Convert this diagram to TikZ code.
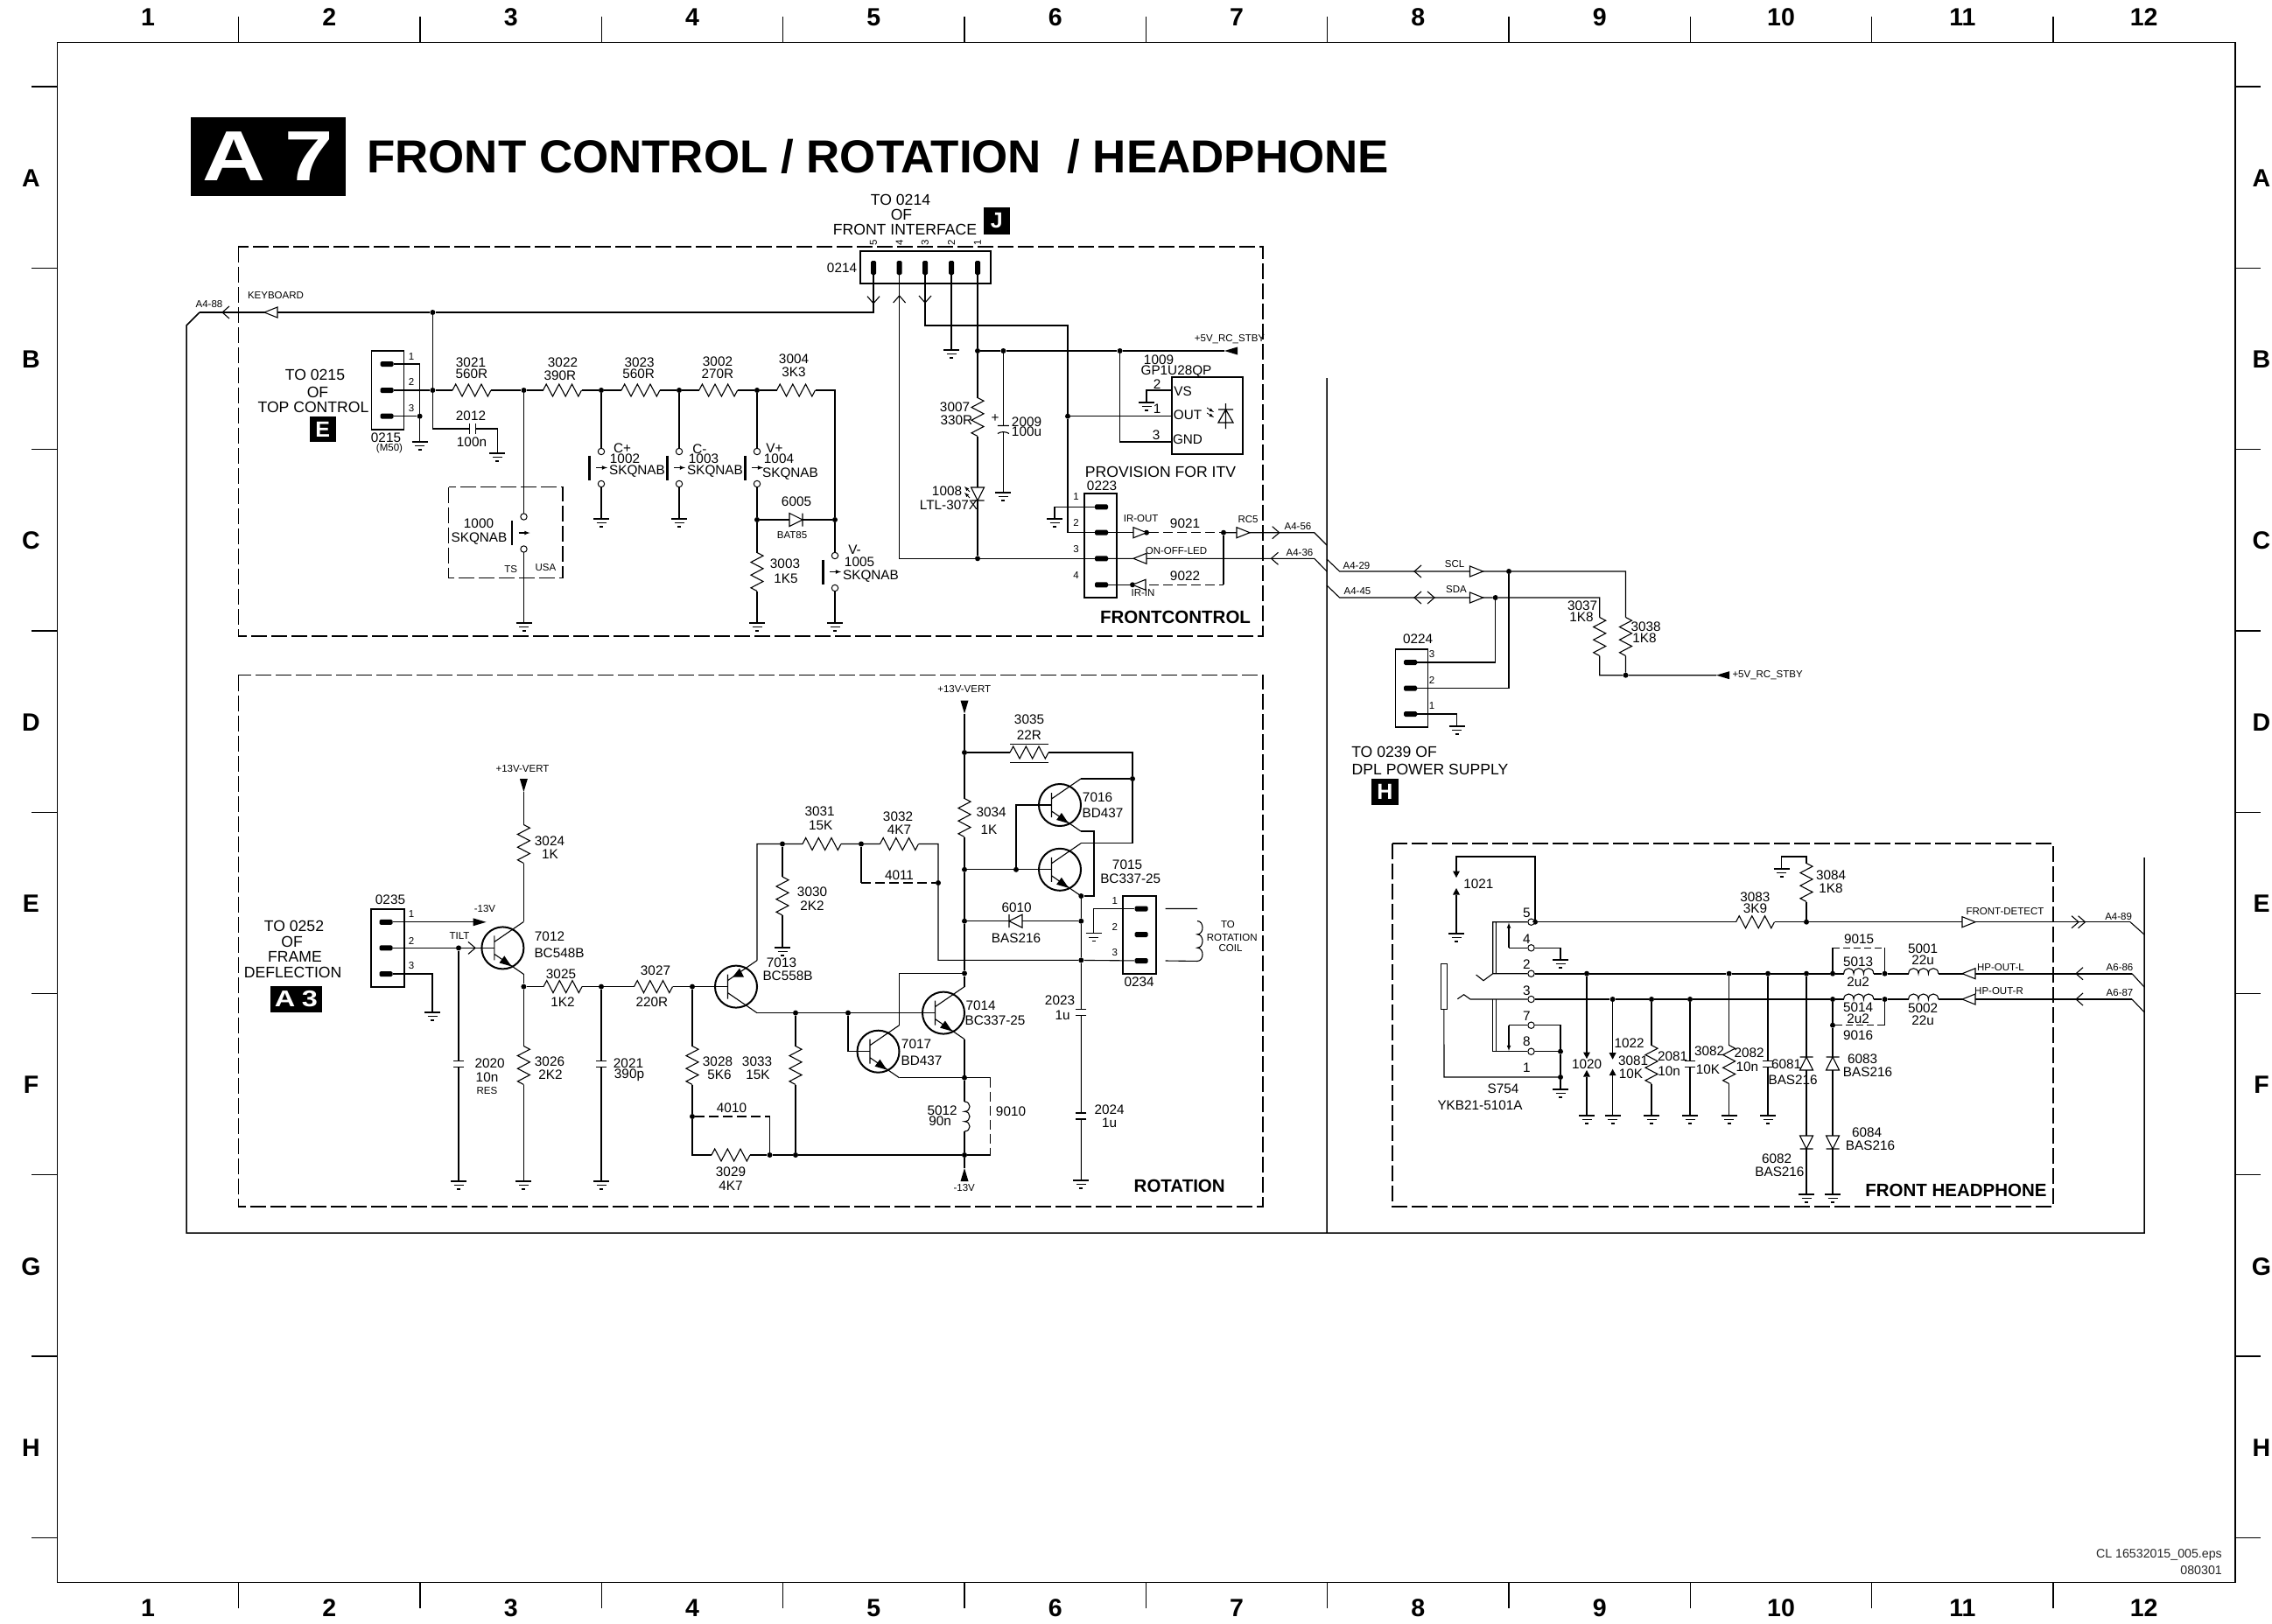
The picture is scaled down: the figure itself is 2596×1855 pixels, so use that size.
\documentclass[tikz,border=0pt]{standalone}
\usepackage{fontspec}
\setmainfont{Liberation Sans}
\tikzset{wire/.style={line width=1.1pt},bus/.style={line width=1.6pt},dashwire/.style={line width=1.1pt,dash pattern=on 11pt off 5pt},sheet/.style={dash pattern=on 18pt off 5pt,line width=1.2pt}}
\tikzset{val/.style={font=\fontsize{15.3}{17}\selectfont,inner sep=0pt},sml/.style={font=\fontsize{11.5}{13}\selectfont,inner sep=0pt},mid/.style={font=\fontsize{17.6}{19}\selectfont,inner sep=0pt},head/.style={font=\fontsize{20.5}{22}\selectfont\bfseries,inner sep=0pt},edge/.style={font=\fontsize{28.5}{30}\selectfont\bfseries,inner sep=0pt},stamp/.style={font=\fontsize{14.2}{16}\selectfont,inner sep=0pt,anchor=east,text=black!85}}
\tikzset{dot/.style={circle,fill=black,minimum size=6pt,inner sep=0pt},term/.style={circle,draw,fill=white,minimum size=7.4pt,inner sep=0pt,line width=1pt},conn/.style={draw,line width=1.8pt,inner sep=0pt},pinh/.style={fill=black,rounded corners=1.5pt,minimum width=15pt,minimum height=6pt,inner sep=0pt},pinv/.style={fill=black,rounded corners=1.5pt,minimum width=6pt,minimum height=16pt,inner sep=0pt},badge/.style={fill=black,text=white,inner sep=0pt,font=\bfseries}}
\tikzset{
	res/.pic={\coordinate (-a) at (-22,0);\coordinate (-b) at (22,0);\draw[wire] (-a)--(-18.3,-7)--(-11,7)--(-3.7,-7)--(3.7,7)--(11,-7)--(18.3,7)--(-b);},
	gnd/.pic={\coordinate (-o) at (0,0);\draw[wire] (-9,0)--(9,0) (-5.5,4.5)--(5.5,4.5) (-2,9)--(2,9);},
	cap/.pic={\coordinate (-a) at (-3.5,0);\coordinate (-b) at (3.5,0);\draw[wire] (-3.5,-6)--(-3.5,6) (3.5,-6)--(3.5,6);},
	elcap/.pic={\coordinate (-a) at (-3.5,0);\coordinate (-b) at (3.5,0);\draw[wire] (-3.5,-6.5)--(-3.5,6.5) (5.5,-6.5) .. controls (3,-3) and (3,3) .. (5.5,6.5);},
	diode/.pic={\coordinate (-a) at (-7.5,0);\coordinate (-b) at (7.5,0);\draw[wire] (-7.5,-7.5)--(-7.5,7.5)--(7.5,0)--cycle (7.5,-7.5)--(7.5,7.5);},
	ind/.pic={\coordinate (-a) at (-17,0);\coordinate (-b) at (17,0);\draw[wire] (-17,0) .. controls (-17,-8) and (-5.7,-8) .. (-5.7,0) .. controls (-5.7,-8) and (5.7,-8) .. (5.7,0) .. controls (5.7,-8) and (17,-8) .. (17,0);},
	npn/.pic={\coordinate (-b) at (-9.5,0);\coordinate (-c) at (24,-30);\coordinate (-e) at (24,30);\draw[line width=2pt] (0,0) circle[radius=24];\draw[wire] (-9.5,-14)--(-9.5,14) (-9.5,-7)--(-c) (-9.5,7)--(-e);\fill (10,21)--(1.9,9)--(-3.9,17)--cycle;},
	pnp/.pic={\coordinate (-b) at (-9.5,0);\coordinate (-c) at (24,-30);\coordinate (-e) at (24,30);\draw[line width=2pt] (0,0) circle[radius=24];\draw[wire] (-9.5,-14)--(-9.5,14) (-9.5,-7)--(-c) (-9.5,7)--(-e);\fill (-4,-11)--(9,-11)--(4,-21)--cycle;},
	pushbtn/.pic={\coordinate (-a) at (0,-22);\coordinate (-b) at (0,22);\node[term] (-ta) at (0,-18.5) {};\node[term] (-tb) at (0,18.5) {};\draw[line width=2.2pt] (-13.5,-14)--(-13.5,14);\draw[wire,-latex] (-6,0)--(7,0);},
	ftri/.pic={\coordinate (-t) at (0,0);\coordinate (-b) at (-15,0);\fill (0,0)--(-15,-4.5)--(-15,4.5)--cycle;},
	fsml/.pic={\coordinate (-t) at (0,0);\coordinate (-b) at (-7.5,0);\fill (0,0)--(-7.5,-4)--(-7.5,4)--cycle;},
	otri/.pic={\draw[wire,fill=white] (0,0)--(-15,-6)--(-15,6)--cycle;},
	chev/.pic={\draw[wire] (-8,-7)--(0,0)--(-8,7);}
}

\begin{document}
\begin{tikzpicture}[x=1pt,y=-1pt]
			\useasboundingbox[fill=white] (0,0) rectangle (2596,1855);
			\draw[line width=1.5pt] (65.4,48.5) rectangle (2554,1808.7);
			\foreach \i in {1,...,11}{
				\pgfmathsetmacro\tx{65.4+207.33*\i}
				\draw[line width=1.3pt] (\tx,19)--(\tx,48.5) (\tx,1808.7)--(\tx,1838);
			}
			\foreach \i in {0,...,8}{
				\pgfmathsetmacro\ty{99+207.3*\i}
				\draw[line width=1.3pt] (36,\ty)--(65.4,\ty) (2554,\ty)--(2582.7,\ty);
			}
			\foreach \i in {1,...,12}{
				\pgfmathsetmacro\tx{65.4+207.33*(\i-0.5)}
				\node[edge] (colT\i) at (\tx,20) {\i};
				\node[edge] (colB\i) at (\tx,1838) {\i};
			}
			\foreach \i/\t in {0/A,1/B,2/C,3/D,4/E,5/F,6/G,7/H}{
				\pgfmathsetmacro\ty{203.5+207.3*\i}
				\node[edge] (rowL\t) at (35.5,\ty) {\t};
				\node[edge] (rowR\t) at (2584,\ty) {\t};
			}
			\node[badge,minimum width=177pt,minimum height=89.7pt,font=\fontsize{81}{81}\selectfont\bfseries] (bA7) at (306.5,178.8) {\scalebox{1.23}[1]{A\hspace{18pt}7}};
			\node[inner sep=0pt,anchor=west,font=\fontsize{52.9}{56}\selectfont\bfseries] (title) at (419,179) {FRONT CONTROL / ROTATION\ \ / HEADPHONE};
			\node[badge,minimum width=30pt,minimum height=29pt,font=\fontsize{25}{25}\selectfont\bfseries] (bE) at (368.6,490.4) {E};
			\node[badge,minimum width=30pt,minimum height=31pt,font=\fontsize{25}{25}\selectfont\bfseries] (bJ) at (1138.7,252.5) {J};
			\node[badge,minimum width=31pt,minimum height=30pt,font=\fontsize{25}{25}\selectfont\bfseries] (bH) at (1582.5,905) {H};
			\node[badge,minimum width=59pt,minimum height=30pt,font=\fontsize{26}{26}\selectfont\bfseries] (bA3) at (338.5,1142) {\scalebox{1.25}[1]{A\hspace{6pt}3}};
			\draw[sheet] (272.4,282) rectangle (1443,727);
			\draw[sheet] (272.4,771.5) rectangle (1443,1379);
			\draw[sheet] (1591,964) rectangle (2346,1379);
			\draw[sheet] (512.8,556.7) rectangle (643,660.7);
			% connectors
			\node[conn,minimum width=37pt,minimum height=90pt] (c0215) at (443,446) {};
			\node[conn,minimum width=149pt,minimum height=37pt] (c0214) at (1057.5,305.5) {};
			\node[conn,minimum width=37pt,minimum height=119pt] (c0223) at (1257.5,623.5) {};
			\node[conn,minimum width=37pt,minimum height=89pt] (c0224) at (1613,786.3) {};
			\node[conn,minimum width=38pt,minimum height=89pt] (c0235) at (443,1083.3) {};
			\node[conn,minimum width=38pt,minimum height=89pt] (c0234) at (1302,1068.4) {};
			\node[conn,line width=1.5pt,minimum width=81pt,minimum height=88pt] (u1009) at (1379.5,475) {};
			\foreach \n/\x/\y in {p215a/442/416,p215b/442/446,p215c/442/475.7,p223a/1258.5/579.3,p223b/1258.5/608.7,p223c/1258.5/638.3,p223d/1258.5/668.3,p224a/1611.5/757,p224b/1611.5/786.7,p224c/1611.5/816,p235a/441/1053.8,p235b/441/1083.4,p235c/441/1113,p234a/1304/1038.5,p234b/1304/1068,p234c/1304/1098}
				\node[pinh] (\n) at (\x,\y) {};
			\foreach \n/\x in {p214a/998,p214b/1027.6,p214c/1057,p214d/1087,p214e/1117}
				\node[pinv] (\n) at (\x,306) {};
			% junctions
			\foreach \n/\x/\y in {jKb/494.4/357,jIn/494.4/446,j3021/598.5/446,j3022/687/446,j3023/776/446,j3002/865/446,jBat/865/594,jVm/954/594,jG215/479.6/475.7,j401a/1117/401,j401b/1146.4/401,j401c/1279.6/401,jOut/1220/475.7,j638/1117/638.3,j608a/1310/608.7,j608b/1398/608.7,j668/1294/668.3,jScl/1724/653,jSda/1708.7/683,j5V/1857.5/771.7,jTilt/524/1083.4,jE/598.4/1127.6,j2021/687/1127.6,jB7013/791/1127.6,j3030/894/964.5,j4011a/984/964.5,j4011b/1072/1009,j3033/909/1157.6,j7017/969/1157.6,j4010/791/1276,j3029/879.5/1320,j3033b/909/1320,j9010/1102/1320,j5012/1102/1231.7,j1112/1102/1112.4,j860/1102/860,j994/1102/993.8,j1161/1161/993.8,j1052/1102/1052.7,j890/1294/890,j1024/1235.3/1024,j1052b/1235.3/1052.7,j1097/1235.3/1097.4,jDet/1754/1053.7,j3084/2064/1053.7,jL1/1813/1112.7,jL2/1975.6/1112.7,jL3/2020/1112.7,jL4/2064/1112.7,jL5/2094/1112.7,jL6/2153.5/1112.7,jR1/1842.6/1142,jR2/1887/1142,jR3/1931/1142,jR5/2094/1142,jR6/2153.5/1142,j9016/2094/1171.7,jS8/1783/1201.7,jS1/1783/1231}
				\node[dot] (\n) at (\x,\y) {};
			\foreach \n/\x/\y in {t5/1749.5/1053.7,t4/1749.5/1083.3,t2/1749.5/1112.7,t3/1749.5/1142,t7/1749.5/1171.7,t8/1749.5/1201.7}
				\node[term] (\n) at (\x,\y) {};
			\node[draw,wire,fill=white,minimum width=7.5pt,minimum height=51.6pt,inner sep=0pt] (plug) at (1649.8,1127.5) {};
			% frontcontrol
			\foreach \n/\x in {r3021/539,r3022/642.5,r3023/732,r3002/820.7,r3004/909.5}
				\pic (\n) at (\x,446) {res};
			\foreach \n/\x/\y in {r3003/865/653.5,r3007/1117/476.5,r3037/1827.7/727.5,r3038/1857.5/727.5,r3024/598.4/964.5,r3026/598.4/1217.5,r3030/894/1024,r3028/791/1217.5,r3033/909/1217.5,r3034/1102/934.5,r3084/2064/1008.5,r2081/1887/1216.5,r2082/1975.6/1216.5}
				\pic[rotate=-90] (\n) at (\x,\y) {res};
			\foreach \n/\x/\y in {g215/479.6/505,g2012/568.4/518,g1002/687/593,g1003/776/593,g3003/865/712,g1005/954/712,g1000/598.5/712,g214/1087/400,g2009/1146.4/563,g1009/1310/460,g223/1205/593,g224/1664.7/830,g235/494/1157,g2020/524/1350,g3026/598.4/1350,g2021/687/1350,g3030/894/1083,g234/1249.7/1066.6,g2024/1235.3/1349,g1021/1664/1067,g3084/2035.7/993,gT4/1783/1097,gS1/1783/1245,g1020/1813/1275,g3081/1842.6/1275,g2081/1887/1275,gC3/1931/1275,g2082/1975.6/1275,gC4/2020/1275,g6082/2064/1365,g6084/2094/1365}
				\pic (\n) at (\x,\y) {gnd};
			\foreach \n/\x/\y in {s1002/687/534.5,s1003/776/534.5,s1004/865/534.5,s1005/954/653.5,s1000/598.5/609}
				\pic (\n) at (\x,\y) {pushbtn};
			\pic (c2012) at (540,490) {cap};
			\pic[rotate=-90] (c2009) at (1146.4,490) {elcap};
			\pic (d6005) at (909.5,594) {diode};
			\pic[rotate=-90] (d1008) at (1117,564.5) {diode};
			\draw[wire] (p215a) -| (g215-o) (p215c) -- (jG215);
			\draw[wire] (p215b) -- (jIn) -- (r3021-a) (r3021-b) -- (j3021) -- (r3022-a) (r3022-b) -- (j3022) -- (r3023-a) (r3023-b) -- (j3023) -- (r3002-a) (r3002-b) -- (j3002) -- (r3004-a);
			\coordinate (c3004) at (954,446);
			\coordinate (c2012w) at (494.4,490);
			\coordinate (c2012e) at (568.4,490);
			\draw[wire] (r3004-b) -- (c3004) -- (jVm) -- (s1005-a) (s1005-b) -- (g1005-o);
			\draw[wire] (jKb) -- (jIn) -- (c2012w) -- (c2012-a) (c2012-b) -- (c2012e) -- (g2012-o);
			\draw[wire] (j3022) -- (s1002-a) (s1002-b) -- (g1002-o);
			\draw[wire] (j3023) -- (s1003-a) (s1003-b) -- (g1003-o);
			\draw[wire] (j3002) -- (s1004-a) (s1004-b) -- (jBat) -- (r3003-a) (r3003-b) -- (g3003-o);
			\draw[wire] (j3021) -- (s1000-a) (s1000-b) -- (g1000-o);
			\draw[wire] (jBat) -- (d6005-a) (d6005-b) -- (jVm);
			\coordinate (kbEnd) at (998,357);
			\coordinate (a488) at (228,357);
			\coordinate (frameA) at (213,372);
			\coordinate (frameB) at (213,1409);
			\coordinate (frameC) at (2450,1409);
			\coordinate (frameD) at (2450,980);
			\coordinate (divT) at (1516,432);
			\coordinate (divB) at (1516,1409);
			\draw[wire] (p214a) -- (kbEnd) -- (jKb) -- (a488);
			\draw[line width=1.5pt] (a488) -- (frameA) -- (frameB) -- (frameC) -- (frameD) (divT) -- (divB);
			\pic[rotate=180] (oKbA) at (254,357) {chev};
			\pic[rotate=180] (oKbB) at (302,357) {otri};
			\pic[rotate=-90] (o214a) at (998,346.7) {chev};
			\pic[rotate=90] (o214b) at (1027.6,338) {chev};
			\pic[rotate=-90] (o214c) at (1057,346) {chev};
			\coordinate (c214c) at (1057,372);
			\coordinate (c214d) at (1220,372);
			\coordinate (c223b) at (1220,608.7);
			\coordinate (c223a) at (1027.6,638.3);
			\draw[wire] (p214b) -- (c223a) -- (j638) -- (p223c);
			\draw[wire] (p214c) -- (c214c) -- (c214d) -- (jOut) -- (c223b) -- (p223b);
			\draw[wire] (p214d) -- (g214-o);
			\pic[rotate=180] (a5V) at (1399,401) {ftri};
			\draw[wire] (p214e) -- (j401a) -- (r3007-a) (r3007-b) -- (d1008-a) (d1008-b) -- (j638);
			\draw[wire] (j401a) -- (j401b) -- (j401c) -- (a5V-t);
			\draw[wire] (j401b) -- (c2009-a) (c2009-b) -- (g2009-o);
			\coordinate (u1009v) at (1339,446);
			\coordinate (u1009o) at (1339,475.7);
			\coordinate (u1009g) at (1339,505);
			\draw[wire] (u1009v) -| (g1009-o);
			\draw[wire] (jOut) -- (u1009o);
			\draw[wire] (j401c) |- (u1009g);
			\draw[wire] (p223a) -| (g223-o);
			\coordinate (a456a) at (1501.7,608.7);
			\coordinate (a456b) at (1516,623);
			\coordinate (a436a) at (1501.7,638.3);
			\coordinate (a436b) at (1516,653);
			\coordinate (c9022) at (1398,668.3);
			\draw[wire] (p223b) -- (j608a);
			\draw[dashwire] (j608a) -- (j608b);
			\draw[wire] (j608b) -- (a456a) -- (a456b);
			\draw[wire] (p223c) -- (a436a) -- (a436b);
			\draw[wire] (p223d) -- (j668);
			\draw[dashwire] (j668) -- (c9022);
			\draw[wire] (c9022) -- (j608b);
			\pic (oIrOut) at (1310,608.7) {otri};
			\pic[rotate=180] (oOnOff) at (1295,638.3) {otri};
			\pic[rotate=180] (oIrIn) at (1294,668.3) {otri};
			\pic (oRc5) at (1428,608.7) {otri};
			\pic (oA456) at (1461.7,608.7) {chev};
			\pic[rotate=180] (oA436) at (1452.5,638.3) {chev};
			\draw[line width=1.2pt] (1400.5,461)--(1400.5,490) (1392,468)--(1409,468) (1400.5,468)--(1392,483)--(1409,483)--cycle;
			\draw[line width=.8pt,-latex] (1379,466)--(1387,471);
			\draw[line width=.8pt,-latex] (1379,472)--(1387,477);
			\draw[line width=.8pt,-latex] (1108,562)--(1102,556);
			\draw[line width=.8pt,-latex] (1108,569)--(1102,563);
			% scl sda
			\coordinate (a429a) at (1516,639);
			\coordinate (a429b) at (1530.6,653);
			\coordinate (a445a) at (1516,669);
			\coordinate (a445b) at (1530.6,683);
			\coordinate (c3038) at (1857.5,653);
			\coordinate (c3037) at (1827.7,683);
			\coordinate (c3037b) at (1827.7,771.7);
			\pic[rotate=180] (a5Vb) at (1961,771.7) {ftri};
			\draw[wire] (a429a) -- (a429b) -- (jScl) -- (c3038) -- (r3038-a) (r3038-b) -- (j5V) -- (a5Vb-t);
			\draw[wire] (a445a) -- (a445b) -- (jSda) -- (c3037) -- (r3037-a) (r3037-b) -- (c3037b) -- (j5V);
			\draw[wire] (jSda) |- (p224a);
			\draw[wire] (jScl) |- (p224b);
			\draw[wire] (p224c) -| (g224-o);
			\pic[rotate=180] (oScl) at (1616,653) {chev};
			\pic[rotate=180] (oSda) at (1616,683) {chev};
			\pic (oSdb) at (1639,683) {chev};
			\pic (oSclT) at (1694.5,653) {otri};
			\pic (oSdaT) at (1694.5,683) {otri};
			% rotation
			\pic (q7012) at (574.4,1083.4) {npn};
			\pic (q7013) at (841,1127.6) {pnp};
			\pic (q7014) at (1078,1157.6) {npn};
			\pic (q7017) at (1003.5,1201.7) {npn};
			\pic (q7016) at (1211,920) {npn};
			\pic (q7015) at (1211,993.8) {npn};
			\pic (r3025) at (643,1127.6) {res};
			\pic (r3027) at (746.5,1127.6) {res};
			\pic (r3031) at (939,964.5) {res};
			\pic (r3032) at (1027.5,964.5) {res};
			\pic (r3029) at (835,1320) {res};
			\pic (r3035) at (1176,860) {res};
			\pic[rotate=-90] (c2020) at (524,1216.4) {cap};
			\pic[rotate=-90] (c2021) at (687,1216.4) {cap};
			\pic[rotate=-90] (c2023) at (1235.3,1156.6) {cap};
			\pic[rotate=-90] (c2024) at (1235.3,1275.5) {cap};
			\pic[rotate=-90] (l5012) at (1102,1276) {ind};
			\pic[rotate=-90,xscale=1.35] (lCoil) at (1368,1075.5) {ind};
			\pic[rotate=180] (d6010) at (1160.5,1052.7) {diode};
			\pic (a13n) at (555.5,1053.8) {ftri};
			\pic[rotate=-90] (v13a) at (598.4,905) {ftri};
			\pic[rotate=-90] (v13b) at (1102,815.6) {ftri};
			\pic[rotate=90] (v13c) at (1102,1335) {ftri};
			\draw[wire] (p235a) -- (a13n-b);
			\draw[wire] (p235b) -- (jTilt) -- (q7012-b);
			\pic (oTilt) at (543,1083.4) {chev};
			\draw[wire] (p235c) -| (g235-o);
			\draw[wire] (jTilt) -- (c2020-a) (c2020-b) -- (g2020-o);
			\draw[wire] (v13a-t) -- (r3024-a) (r3024-b) -- (q7012-c) (q7012-e) -- (jE) -- (r3026-a) (r3026-b) -- (g3026-o);
			\draw[wire] (jE) -- (r3025-a) (r3025-b) -- (j2021) -- (r3027-a) (r3027-b) -- (jB7013) -- (q7013-b);
			\draw[wire] (j2021) -- (c2021-a) (c2021-b) -- (g2021-o);
			\coordinate (c7013) at (865,964.5);
			\coordinate (c3032) at (1072,964.5);
			\coordinate (c1097) at (1072,1097.4);
			\coordinate (c4011) at (984,1009);
			\draw[wire] (q7013-c) -- (c7013) -- (j3030) -- (r3031-a) (r3031-b) -- (j4011a) -- (r3032-a) (r3032-b) -- (c3032) -- (j4011b) -- (c1097) -- (j1097) -- (p234c);
			\draw[wire] (j3030) -- (r3030-a) (r3030-b) -- (g3030-o);
			\draw[wire] (j4011a) -- (c4011);
			\draw[dashwire] (c4011) -- (j4011b);
			\draw[wire] (q7013-e) -- (j3033) -- (j7017) -- (q7014-b);
			\draw[wire] (j3033) -- (r3033-a) (r3033-b) -- (j3033b);
			\draw[wire] (jB7013) -- (r3028-a) (r3028-b) -- (j4010);
			\coordinate (c3028) at (791,1320);
			\coordinate (c4010) at (879.5,1276);
			\draw[wire] (j4010) -- (c3028) -- (r3029-a) (r3029-b) -- (j3029) -- (j3033b) -- (j9010);
			\draw[dashwire] (j4010) -- (c4010);
			\draw[wire] (c4010) -- (j3029);
			\draw[wire] (j7017) |- (q7017-b);
			\coordinate (c7017) at (1027.5,1112.4);
			\draw[wire] (q7017-c) -- (c7017) -- (j1112);
			\draw[wire] (q7017-e) -- (j5012);
			\draw[wire] (q7014-c) -- (j1112);
			\draw[wire] (q7014-e) -- (j5012) -- (l5012-a) (l5012-b) -- (j9010) -- (v13c-t);
			\coordinate (c9010a) at (1131.7,1231.7);
			\coordinate (c9010b) at (1131.7,1320);
			\draw[wire] (j5012) -- (c9010a) (c9010b) -- (j9010);
			\draw[dashwire] (c9010a) -- (c9010b);
			\draw[wire] (v13b-t) -- (j860) -- (r3034-a) (r3034-b) -- (j994) -- (j1052) -- (j1112);
			\coordinate (c3035a) at (1294,860);
			\coordinate (c3035b) at (1294,963.8);
			\coordinate (c7016e) at (1250,950);
			\coordinate (c7016f) at (1250,1024);
			\draw[wire] (j860) -- (r3035-a) (r3035-b) -- (c3035a) -- (j890) -- (c3035b) -- (q7015-c);
			\draw[wire] (j890) -- (q7016-c);
			\draw[wire] (q7016-e) -- (c7016e) -- (c7016f) -- (j1024);
			\draw[wire] (q7015-e) -- (j1024) -- (j1052b) -- (j1097) -- (c2023-a) (c2023-b) -- (c2024-a) (c2024-b) -- (g2024-o);
			\draw[wire] (j994) -- (j1161) -- (q7015-b);
			\draw[wire] (j1161) |- (q7016-b);
			\draw[wire] (j1052) -- (d6010-b) (d6010-a) -- (j1052b);
			\draw[wire] (p234a) -| (g234-o);
			\draw[line width=.8pt] (1154,850)--(1198,850) (1154,871.7)--(1198,871.7);
			\coordinate (coilA) at (1331.7,1038.5);
			\coordinate (coilB) at (1368,1038.5);
			\coordinate (coilC) at (1331.7,1098);
			\draw[wire] (coilA) -- (coilB) (coilC) -- (lCoil-b);
			% headphone
			\pic (r3083) at (2005.5,1053.7) {res};
			\pic (l5013) at (2123.7,1112.7) {ind};
			\pic (l5001) at (2197.7,1112.7) {ind};
			\pic (l5014) at (2123.7,1142) {ind};
			\pic (l5002) at (2197.7,1142) {ind};
			\pic[rotate=-90] (c2081) at (1931,1216) {cap};
			\pic[rotate=-90] (c2082) at (2020,1216) {cap};
			\pic[rotate=90] (d6081) at (2064,1215.5) {diode};
			\pic[rotate=90] (d6083) at (2094,1215.5) {diode};
			\pic[rotate=-90] (d6082) at (2064,1305.5) {diode};
			\pic[rotate=-90] (d6084) at (2094,1305.5) {diode};
			\pic[rotate=-90] (f1021a) at (1664,1003) {fsml};
			\pic[rotate=90] (f1021b) at (1664,1015) {fsml};
			\pic[rotate=-90] (f1020a) at (1813,1210) {fsml};
			\pic[rotate=90] (f1020b) at (1813,1223) {fsml};
			\pic[rotate=-90] (f1022a) at (1842.6,1210.7) {fsml};
			\pic[rotate=90] (f1022b) at (1842.6,1221.7) {fsml};
			\coordinate (c1021a) at (1754,979);
			\coordinate (c1021b) at (1664,979);
			\draw[wire] (jDet) -- (c1021a) -- (c1021b) -- (f1021a-b) (f1021b-b) -- (g1021-o);
			\coordinate (a489a) at (2434,1053.7);
			\coordinate (a489b) at (2450,1068);
			\coordinate (a486a) at (2436,1112.7);
			\coordinate (a486b) at (2450,1128);
			\coordinate (a487a) at (2436,1142);
			\coordinate (a487b) at (2450,1156.7);
			\draw[wire] (t5) -- (jDet) -- (r3083-a) (r3083-b) -- (j3084) -- (a489a);
			\draw[wire] (a489a) -- (a489b) (a486a) -- (a486b) (a487a) -- (a487b);
			\coordinate (c3084a) at (2064,979);
			\coordinate (c3084b) at (2035.7,979);
			\draw[wire] (j3084) -- (r3084-b) (r3084-a) -- (c3084a) -- (c3084b) -- (g3084-o);
			\draw[bus] (t2) -- (jL1) -- (jL2) -- (jL3) -- (jL4) -- (jL5) -- (l5013-a) (l5013-b) -- (jL6) -- (l5001-a) (l5001-b) -- (a486a);
			\draw[bus] (t3) -- (jR1) -- (jR2) -- (jR3) -- (jR5) -- (l5014-a) (l5014-b) -- (jR6) -- (l5002-a) (l5002-b) -- (a487a);
			\coordinate (c5a) at (1705.7,1053.7);
			\coordinate (c5b) at (1705.7,1112.7);
			\coordinate (c5c) at (1709.3,1053.7);
			\coordinate (c5d) at (1709.3,1112.7);
			\coordinate (c7a) at (1705.7,1142);
			\coordinate (c7b) at (1705.7,1201.7);
			\coordinate (c7c) at (1709.3,1142);
			\coordinate (c7d) at (1709.3,1201.7);
			\coordinate (z2a) at (1686.6,1114);
			\coordinate (z2b) at (1695,1120.7);
			\coordinate (z3a) at (1665.3,1141.7);
			\coordinate (z3b) at (1672.6,1136.7);
			\coordinate (z3c) at (1680,1142);
			\draw[wire] (t5) -- (c5a) -- (c5b) -- (t2) (c5c) -- (c5d) (c5b) -- (z2b) -- (z2a);
			\draw[wire] (z3a) -- (z3b) -- (z3c) -- (t3);
			\draw[wire] (c7a) -- (c7b) -- (t8) (c7c) -- (c7d);
			\coordinate (c4a) at (1724,1083.3);
			\coordinate (c4b) at (1724,1054.5);
			\coordinate (c8a) at (1724,1171.7);
			\coordinate (c8b) at (1724,1201);
			\draw[wire,-latex] (c4a) -- (c4b);
			\draw[wire,-latex] (c8a) -- (c8b);
			\draw[wire] (c4a) -- (t4) -| (gT4-o);
			\coordinate (c7e) at (1783,1171.7);
			\draw[wire] (c8a) -- (t7) -- (c7e) -- (jS8) -- (jS1) -- (gS1-o);
			\draw[wire] (t8) -- (jS8);
			\coordinate (c1a) at (1650,1231);
			\draw[wire] (plug) -- (c1a) -- (jS1);
			\draw[wire] (jL1) -- (f1020a-b) (f1020b-b) -- (g1020-o);
			\draw[wire] (jR1) -- (f1022a-b) (f1022b-b) -- (g3081-o);
			\draw[wire] (jR2) -- (r2081-a) (r2081-b) -- (g2081-o);
			\draw[wire] (jR3) -- (c2081-a) (c2081-b) -- (gC3-o);
			\draw[wire] (jL2) -- (r2082-a) (r2082-b) -- (g2082-o);
			\draw[wire] (jL3) -- (c2082-a) (c2082-b) -- (gC4-o);
			\draw[wire] (jL4) -- (d6081-b) (d6081-a) -- (d6082-a) (d6082-b) -- (g6082-o);
			\draw[wire] (jR5) -- (j9016) -- (d6083-b) (d6083-a) -- (d6084-a) (d6084-b) -- (g6084-o);
			\coordinate (c9015a) at (2094,1083.3);
			\coordinate (c9015b) at (2153.5,1083.3);
			\coordinate (c9016b) at (2153.5,1171.7);
			\draw[wire] (jL5) -- (c9015a);
			\draw[dashwire,dash pattern=on 8pt off 4pt] (c9015a) -- (c9015b) (j9016) -- (c9016b);
			\draw[wire] (c9015b) -- (jL6) (jR6) -- (c9016b);
			\pic (oDet) at (2257,1053.7) {otri};
			\pic (oDetA) at (2375,1053.7) {chev};
			\pic (oDetB) at (2382.5,1053.7) {chev};
			\pic[rotate=180] (oHpL) at (2242,1112.7) {otri};
			\pic[rotate=180] (oHpR) at (2242,1142) {otri};
			\pic[rotate=180] (oA486) at (2372,1112.7) {chev};
			\pic[rotate=180] (oA487) at (2372,1142) {chev};
			% labels
			\foreach \n/\x/\y/\txt in {lb3021/538/414/3021,vl3021/539/427/560R,lb3022/643/414/3022,vl3022/640/429/390R,lb3023/730.6/414/3023,vl3023/729.6/427/560R,lb3002/820/413/3002,vl3002/820/427/270R,lb3004/907/410/3004,vl3004/907/425/3K3,lb2012/538/475/2012,vl2012/539/505/100n,lb0215/441/500/0215,lbCp/711/512/C+,lbCm/799.5/513/C-,lbVp/885/512/V+,lbVm/976.5/628/V-,lb1002/714/524/1002,sk1002/728/539/SKQNAB,lb1003/804/524/1003,sk1003/817/539/SKQNAB,lb1004/890/524/1004,sk1004/903/542/SKQNAB,lb1005/982/642/1005,sk1005/995/659/SKQNAB,lb1000/547/598/1000,sk1000/547.5/616/SKQNAB,lb6005/910/573/6005,lb3003/897/644/3003,vl3003/898/661/1K5,lb0214/962/306/0214,lb3007/1091/465/3007,vl3007/1093/480/330R,lbPlus/1137/478/+,lb2009/1173/482/2009,vl2009/1173/493/100u,lb1008/1082/561/1008,vl1008/1084/577/LTL-307X,lb1009/1324/411/1009,vl1009/1344/425/GP1U28QP,lbVS/1351.5/447/VS,lbOUT/1357/474/OUT,lbGND/1357/502/GND,lbU2/1322/439/2,lbU1/1322/467/1,lbU3/1321/497/3,lb0223/1259/555/0223,lb9021/1354/598/9021,lb9022/1354/658/9022,lb3037/1808/692/3037,vl3037/1807/705/1K8,lb3038/1880.5/716/3038,vl3038/1879/729/1K8,lb0224/1620/730/0224}
				\node[val] (\n) at (\x,\y) {\txt};
			\foreach \n/\x/\y/\txt in {lb0235/446/1028/0235,lb3024/628/961/3024,vl3024/628.5/976/1K,lb3026/628/1212.8/3026,vl3026/629/1228.6/2K2,lb7012/628/1070/7012,vl7012/639/1089/BC548B,lb3025/641/1112.8/3025,vl3025/643/1145.5/1K2,lb3027/749/1109.7/3027,vl3027/745/1145.5/220R,lb2020/559.6/1215.5/2020,vl2020/556.5/1231.7/10n,lb2021/718/1215.5/2021,vl2021/719/1228.6/390p,lb7013/893/1100/7013,vl7013/900/1115.5/BC558B,lb3031/936.6/927/3031,vl3031/937.7/943/15K,lb3032/1026/933/3032,vl3032/1027.5/948/4K7,lb3030/928/1019/3030,vl3030/928/1035/2K2,lb4011/1027.5/1000/4011,lb3028/820/1212.8/3028,vl3028/822/1228.6/5K6,lb3033/865/1212.8/3033,vl3033/866/1228.6/15K,lb4010/836/1266/4010,lb3029/835/1339.7/3029,vl3029/835/1355/4K7,lb7017/1047/1193.4/7017,vl7017/1053/1212/BD437,lb3035/1176/822/3035,vl3035/1176/839.7/22R,lb3034/1132.7/928/3034,vl3034/1130/948/1K,lb7016/1254/911.6/7016,vl7016/1260/929.4/BD437,lb7015/1288/988.7/7015,vl7015/1291.7/1004/BC337-25,lb6010/1161.7/1037/6010,vl6010/1161/1072.5/BAS216,lb7014/1120.7/1148.8/7014,vl7014/1137/1166.6/BC337-25,lb5012/1076.7/1269/5012,vl5012/1074/1281/90n,lb9010/1155/1270/9010,lb2023/1211/1143.6/2023,vl2023/1214/1160/1u,lb2024/1267.7/1267.8/2024,vl2024/1267.7/1282.8/1u,lb0234/1301.7/1122/0234}
				\node[val] (\n) at (\x,\y) {\txt};
			\foreach \n/\x/\y/\txt in {lb1021/1689.4/1010/1021,lb5/1744.4/1043/5,lb4/1744.4/1073/4,lb2/1744.4/1102/2,lb3/1744.4/1132/3,lb7/1744.4/1161.7/7,lb8/1744.4/1190.7/8,lb1/1744.4/1220/1,lbS754/1717.5/1244/S754,vlS754/1691/1263/YKB21-5101A,lb3084/2092/1000/3084,vl3084/2092/1015/1K8,lb3083/2005.4/1025/3083,vl3083/2005.4/1038/3K9,lb9015/2124/1073/9015,lb5013/2123/1099/5013,vl5013/2123/1122/2u2,lb5001/2197/1084/5001,vl5001/2197/1097/22u,lb5014/2123/1151/5014,vl5014/2123/1164/2u2,lb9016/2123/1183/9016,lb5002/2197/1152/5002,vl5002/2197/1166/22u,lb6081/2041/1216/6081,vl6081/2048.6/1234/BAS216,lb6083/2128/1210/6083,vl6083/2134/1225/BAS216,lb6084/2133/1294/6084,vl6084/2137/1309/BAS216,lb6082/2030/1324/6082,vl6082/2033.4/1339/BAS216,lb1020/1813/1216/1020,lb1022/1861.7/1192/1022,lb3081/1866/1212/3081,vl3081/1863.4/1227/10K,lb2081/1911/1207/2081,vl2081/1907/1224/10n,lb3082/1953/1201/3082,vl3082/1951.5/1222/10K,lb2082/1998.6/1203/2082,vl2082/1996.4/1219/10n}
				\node[val] (\n) at (\x,\y) {\txt};
			\foreach \n/\x/\y/\txt in {lbA488/239/348/A4-88,lbKey/315/338/KEYBOARD,lbM50/445/513/(M50),lbTS/583.7/651/TS,lbUSA/623.5/649/USA,lbBat/905/612/BAT85,lb5Va/1405/388/+5V\_RC\_STBY,lbIrOut/1303.6/593/IR-OUT,lbRc5/1426/594/RC5,lbA456/1483/602/A4-56,lbOnOff/1344/630/ON-OFF-LED,lbA436/1485/632/A4-36,lbIrIn/1306/678/IR-IN,lbA429/1550/647/A4-29,lbScl/1662/645/SCL,lbA445/1551/676/A4-45,lbSda/1664/674/SDA,lb5Vb/2019.6/771.7/+5V\_RC\_STBY,lb13a/597/879/+13V-VERT,lb13n/554/1039/-13V,lbTilt/525/1070/TILT,lbRes/556.5/1247/RES,lb13b/1101.7/788/+13V-VERT,lb13c/1101.7/1358/-13V,lbTo/1403/1056.7/TO,lbRot/1407.7/1071.7/ROTATION,lbCoil/1406/1084/COIL,lbDet/2291/1041.7/FRONT-DETECT,lbA489/2420.6/1048/A4-89,lbHpL/2286/1106/HP-OUT-L,lbA486/2422/1106/A6-86,lbHpR/2284/1133/HP-OUT-R,lbA487/2422/1135/A6-87,pn215a/470/407.7/1,pn215b/470/436.7/2,pn215c/470/466.7/3,pn223a/1229.6/568/1,pn223b/1229.6/597/2,pn223c/1229.6/628/3,pn223d/1229.6/658/4,pn224a/1636/747.7/3,pn224b/1636/777/2,pn224c/1636/807/1,pn235a/470/1045/1,pn235b/470/1075/2,pn235c/470/1104/3,pn234a/1273.7/1029.4/1,pn234b/1273.7/1059.5/2,pn234c/1273.7/1088.3/3}
				\node[sml] (\n) at (\x,\y) {\txt};
			\foreach \n/\x/\txt in {pn214a/998/5,pn214b/1027.6/4,pn214c/1057/3,pn214d/1087/2,pn214e/1117/1}
				\node[sml,rotate=90] (\n) at (\x,277) {\txt};
			\foreach \n/\x/\y/\txt in {tx0215a/360/428/TO 0215,tx0215b/363/448/OF,tx0215c/358/465/TOP CONTROL,tx0214a/1029/228/TO 0214,tx0214b/1030/245/OF,tx0214c/1034/262/FRONT INTERFACE,txItv/1326/539/PROVISION FOR ITV,tx0252a/336/1058/TO 0252,tx0252b/333.6/1076/OF,tx0252c/337/1093/FRAME,tx0252d/334.6/1111/DEFLECTION,tx0239a/1593/859/TO 0239 OF,tx0239b/1634/879/DPL POWER SUPPLY}
				\node[mid] (\n) at (\x,\y) {\txt};
			\foreach \n/\x/\y/\txt in {hdFront/1343/705.7/FRONTCONTROL,hdRot/1347.7/1355/ROTATION,hdHead/2235/1360.7/FRONT HEADPHONE}
				\node[head] (\n) at (\x,\y) {\txt};
			\node[stamp] (lbEps) at (2539,1777) {CL 16532015\_005.eps};
			\node[stamp] (lbDate) at (2539,1795) {080301};
		\end{tikzpicture}
\end{document}
